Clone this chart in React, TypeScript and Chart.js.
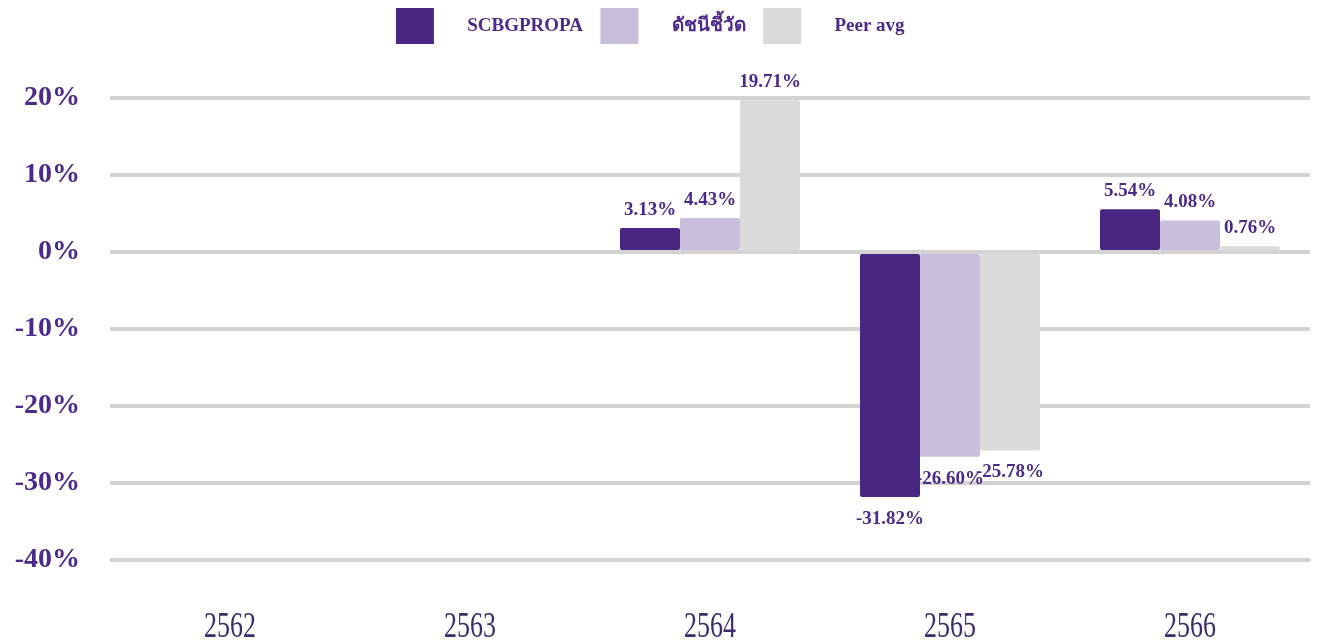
import React, { useEffect, useRef } from "react";
import { Chart, registerables } from "chart.js";

Chart.register(...registerables);

const categories = ["2562", "2563", "2564", "2565", "2566"];
const seriesNames = ["SCBGPROPA", "ดัชนีชี้วัด", "Peer avg"];
const fundValues = [null, null, 3.13, -31.82, 5.54];
const benchmarkValues = [null, null, 4.43, -26.6, 4.08];
const peerValues = [null, null, 19.71, -25.78, 0.76];
const yTicks = [20, 10, 0, -10, -20, -30, -40];

const colors = ["#4a2683", "#c9bedb", "#dadada"];
const textColor = "#4b2a8a";
const serif = "'Liberation Serif', 'Times New Roman', serif";

const legendSpacer = {
  id: "legendSpacer",
  beforeInit(chart: any) {
    const legend = chart.legend;
    if (!legend) return;
    const origFit = legend.fit;
    legend.fit = function () {
      origFit.bind(legend)();
      this.height += 44;
    };
  },
};

const valueLabels = {
  id: "valueLabels",
  afterDatasetsDraw(chart: any) {
    const ctx = chart.ctx;
    ctx.save();
    ctx.font = `bold 19px ${serif}`;
    ctx.fillStyle = textColor;
    ctx.textAlign = "center";
    ctx.textBaseline = "middle";
    chart.data.datasets.forEach((ds: any, di: number) => {
      const meta = chart.getDatasetMeta(di);
      meta.data.forEach((el: any, i: number) => {
        const v = ds.data[i];
        if (v === null || v === undefined) return;
        const y = v >= 0 ? el.y - 18 : el.y + 22;
        ctx.fillText(v.toFixed(2) + "%", el.x, y);
      });
    });
    ctx.restore();
  },
};

const condensedXLabels = {
  id: "condensedXLabels",
  afterDraw(chart: any) {
    const ctx = chart.ctx;
    const xs = chart.scales.x;
    ctx.save();
    ctx.font = `35px ${serif}`;
    ctx.fillStyle = "#3d2b6b";
    ctx.textAlign = "center";
    ctx.textBaseline = "middle";
    chart.data.labels.forEach((lab: string, i: number) => {
      const px = xs.getPixelForValue(i);
      const py = xs.top + 68;
      ctx.save();
      ctx.translate(px, py);
      ctx.scale(0.74, 1);
      ctx.fillText(lab, 0, 0);
      ctx.restore();
    });
    ctx.restore();
  },
};

export default function App() {
  const ref = useRef<HTMLCanvasElement>(null);
  useEffect(() => {
    if (!ref.current) return;
    const values = [fundValues, benchmarkValues, peerValues];
    const chart = new Chart(ref.current, {
      type: "bar",
      data: {
        labels: categories,
        datasets: seriesNames.map((name, i) => ({
          label: name,
          data: values[i],
          backgroundColor: colors[i],
          borderRadius: 2,
          borderSkipped: false,
          categoryPercentage: 0.75,
          barPercentage: 1.0,
        })),
      },
      options: {
        animation: false,
        responsive: true,
        maintainAspectRatio: false,
        layout: { padding: { left: 0, right: 7, top: 0, bottom: 0 } },
        plugins: {
          legend: {
            position: "top",
            labels: {
              boxWidth: 38,
              boxHeight: 36,
              padding: 8,
              color: textColor,
              font: { family: serif, size: 19, weight: "bold" },
              generateLabels: (chart: any) => {
                const items = Chart.defaults.plugins.legend.labels.generateLabels(chart);
                return items.map((it: any) => ({ ...it, text: "     " + it.text + "  " }));
              },
            },
          },
          tooltip: { enabled: false },
        },
        scales: {
          x: {
            grid: { display: false, drawTicks: false },
            border: { display: false },
            afterFit: (s: any) => {
              s.height = 84;
            },
            ticks: {
              color: "rgba(0,0,0,0)",
              font: { family: serif, size: 26 },
              padding: 0,
            },
          },
          y: {
            min: -40,
            max: 20,
            afterFit: (s: any) => {
              s.width = 110;
            },
            afterBuildTicks: (s: any) => {
              s.ticks = yTicks.map((v) => ({ value: v }));
            },
            grid: { color: "#d3d3d3", lineWidth: 4, drawTicks: false },
            border: { display: false },
            ticks: {
              color: textColor,
              font: { family: serif, size: 28, weight: "bold" },
              padding: 30,
              callback: (v: any) => v + "%",
            },
          },
        },
      },
      plugins: [legendSpacer, valueLabels, condensedXLabels],
    });
    return () => chart.destroy();
  }, []);
  return (
    <div style={{ position: "absolute", left: 0, top: 0, width: 1317, height: 644 }}>
      <canvas ref={ref} />
    </div>
  );
}
